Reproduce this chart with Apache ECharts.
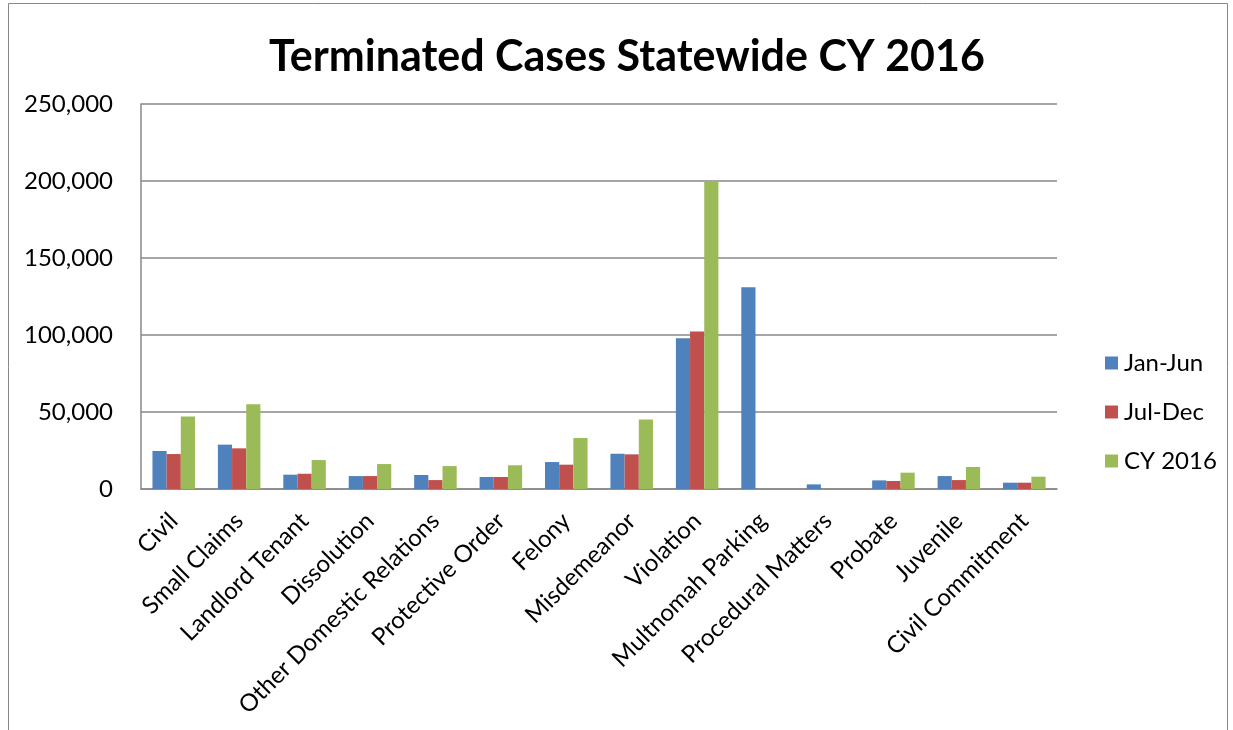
<!DOCTYPE html>
<html><head><meta charset="utf-8">
<script src="https://cdn.jsdelivr.net/npm/echarts@6/dist/echarts.min.js"></script>
<style>html,body{margin:0;padding:0;background:#fff}#c{width:1233px;height:730px}</style>
</head><body><div id="c"></div>
<script>
const categories = ["Civil","Small Claims","Landlord Tenant","Dissolution","Other Domestic Relations","Protective Order","Felony","Misdemeanor","Violation","Multnomah Parking","Procedural Matters","Probate","Juvenile","Civil Commitment"];
const janJun = [24700, 28800, 9300, 8400, 9100, 7800, 17500, 22900, 97900, 131000, 3000, 5600, 8400, 4100];
const julDec = [22700, 26400, 9900, 8400, 5800, 7800, 15800, 22500, 102200, 0, 0, 5200, 5800, 4100];
const cy2016 = [47000, 55000, 18800, 16200, 14900, 15400, 33100, 45200, 200000, 0, 0, 10600, 14300, 8000];
const seriesNames = ["Jan-Jun", "Jul-Dec", "CY 2016"];
const colors = ["#4F81BD", "#C0504D", "#9BBB59"];

const chart = echarts.init(document.getElementById('c'), null, {renderer: 'canvas'});
const font = "Lato, 'Open Sans', sans-serif";
const mk = (name, data, i) => ({
  name, type: 'bar', data, barGap: '0%', barCategoryGap: '35%',
  itemStyle: {color: colors[i], borderWidth: 0}
});
chart.setOption({
  animation: false,
  title: {text: 'Terminated Cases Statewide CY 2016', left: 622, textAlign: 'center', top: 31,
    textStyle: {fontFamily: font, fontWeight: 'bold', fontSize: 43, color: '#000'}},
  graphic: [{type: 'rect', shape: {x: 8.5, y: 3.5, width: 1219, height: 740},
    style: {fill: 'none', stroke: '#888', lineWidth: 1}, silent: true, z: -1}],
  grid: {left: 141, right: 176, top: 104, bottom: 241},
  legend: {orient: 'vertical', left: 1100, top: 346, itemGap: 25, itemWidth: 13, itemHeight: 13,
    icon: 'rect', textStyle: {fontFamily: font, fontSize: 24, color: '#000', padding: [0,0,0,1]},
    data: seriesNames},
  xAxis: {type: 'category', data: categories,
    axisLine: {lineStyle: {color: '#888', width: 1.5}},
    axisTick: {show: false},
    axisLabel: {rotate: 45, interval: 0, fontFamily: font, fontSize: 24, color: '#000', margin: 28}},
  yAxis: {type: 'value', min: 0, max: 250000, interval: 50000,
    axisLine: {show: true, lineStyle: {color: '#888', width: 1.5}},
    axisTick: {show: false},
    splitLine: {lineStyle: {color: '#888', width: 1.5}},
    axisLabel: {fontFamily: font, fontSize: 24, color: '#000', margin: 28,
      formatter: v => v.toLocaleString('en-US')}},
  series: [mk(seriesNames[0], janJun, 0), mk(seriesNames[1], julDec, 1), mk(seriesNames[2], cy2016, 2)]
});
</script></body></html>
